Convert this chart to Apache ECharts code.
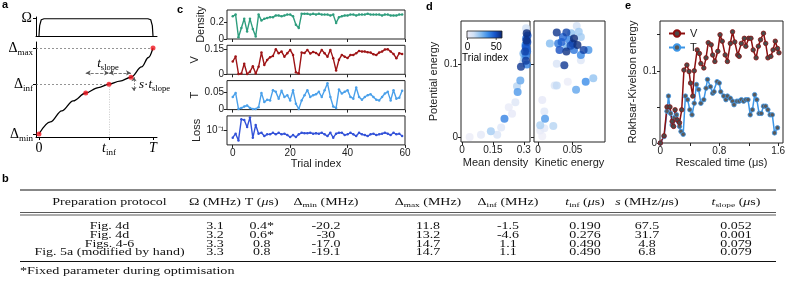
<!DOCTYPE html>
<html>
<head>
<meta charset="utf-8">
<script src="https://cdn.jsdelivr.net/npm/echarts@6.0.0/dist/echarts.min.js"></script>
<style>
html,body{margin:0;padding:0;background:#fff;}
#chart{width:793px;height:300px;}
</style>
</head>
<body>
<div id="chart"></div>
<script>
const SANS = '"Liberation Sans", Arial, Helvetica, sans-serif';
const SERIF = '"Liberation Serif", "Times New Roman", serif';

// ---------- Panel a (schematic sweep) ----------
const omegaT = [0, 0.006, 0.02, 0.045, 0.955, 0.98, 0.994, 1];
const omegaV = [0, 0.6, 0.94, 1, 1, 0.94, 0.6, 0];
const sweepT = [0, 0.1, 0.2, 0.3, 0.41, 0.52, 0.614, 0.71, 0.807, 0.9, 0.96, 1];
const sweepD = [0, 0.14, 0.27, 0.385, 0.477, 0.54, 0.58, 0.615, 0.66, 0.78, 0.89, 1];
const keyT = [0, 0.41, 0.614, 0.807, 1];
const keyD = [0, 0.477, 0.58, 0.66, 1];
const aTickX = [0, 0.614, 1];
const aTickY = [0, 0.58, 1];

// ---------- Panel c (optimisation trials) ----------
const density = [0.27,0.29,0.02,0.13,0.24,0.09,0.24,0.12,0.03,0.29, 0.22,0.24,0.25,0.26,0.26,0.28,0.28,0.27,0.28,0.29,
  0.29,0.27,0.17,0.13,0.30,0.30,0.30,0.29,0.30,0.29, 0.30,0.29,0.29,0.29,0.28,0.29,0.19,0.26,0.27,0.28,
  0.28,0.29,0.29,0.28,0.29,0.29,0.29,0.30,0.29,0.29, 0.29,0.29,0.28,0.29,0.29,0.28,0.28,0.28,0.29,0.29];
const potentialV = [0.075,0.105,0.002,0.004,0.062,0.002,0.015,0.048,0.004,0.044, 0.128,0.055,0.085,0.1,0.108,0.148,0.124,0.134,0.104,0.124,
  0.144,0.114,0.012,0.004,0.128,0.126,0.144,0.122,0.132,0.126, 0.114,0.144,0.124,0.104,0.144,0.094,0.022,0.086,0.114,0.104,
  0.096,0.114,0.114,0.124,0.138,0.134,0.134,0.13,0.128,0.118, 0.114,0.128,0.134,0.146,0.148,0.134,0.12,0.094,0.124,0.12];
const kineticT = [0.037,0.049,0.002,0.005,0.009,0.012,0.005,0.002,0.002,0.007, 0.049,0.022,0.029,0.027,0.057,0.052,0.032,0.055,0.037,0.042,
  0.027,0.057,0.017,0.002,0.027,0.042,0.057,0.037,0.042,0.045, 0.052,0.037,0.057,0.077,0.037,0.009,0.005,0.059,0.047,0.052,
  0.057,0.037,0.032,0.065,0.037,0.029,0.037,0.042,0.045,0.037, 0.029,0.027,0.037,0.047,0.052,0.027,0.057,0.032,0.035,0.055];
const loss = [0.056,0.077,0.045,0.24,0.227,0.13,0.28,0.056,0.153,0.077, 0.083,0.064,0.073,0.073,0.083,0.073,0.083,0.073,0.077,0.069,
  0.059,0.069,0.059,0.073,0.083,0.08,0.08,0.083,0.077,0.08, 0.077,0.083,0.073,0.064,0.083,0.056,0.077,0.083,0.083,0.069,
  0.073,0.083,0.073,0.064,0.083,0.073,0.069,0.064,0.073,0.077, 0.069,0.073,0.077,0.083,0.077,0.069,0.083,0.073,0.077,0.064];
const cTickX = [0, 20, 40, 60];

// ---------- Panel d (scatter) ----------
const dDensity = [0.037,0.092,0.171,0.14,0.19,0.206,0.227,0.243,0.259,0.267,0.27,0.283,0.295,0.286,0.302,0.311,0.306,0.314,0.308,0.317,0.311,0.314,0.311,0.298,0.309,0.316,0.312,0.318,0.305,0.31,0.315,0.313];
const dPotL    = [0.000,0.003,0.003,0.008,0.013,0.025,0.041,0.032,0.048,0.070,0.062,0.078,0.102,0.097,0.108,0.112,0.118,0.122,0.127,0.131,0.136,0.143,0.150,0.115,0.124,0.118,0.128,0.140,0.112,0.105,0.100,0.133];
const dIdxL    = [2,5,9,19,6,38,3,4,7,16,33,30,11,55,21,40,52,45,36,50,42,58,12,27,47,43,31,48,25,54,39,57];
const dKin  = [0.006,0.003,0.009,0.003,0.010,0.009,0.006,0.022,0.024,0.027,0.043,0.055,0.069,0.080,0.073,0.027,0.038,0.062,0.027,0.041,0.056,0.059,0.062,0.017,0.029,0.036,0.045,0.050,0.057,0.066,0.052,0.041,0.031,0.062,0.041,0.048,0.034,0.052,0.047];
const dPotR = [0.001,0.009,0.012,0.016,0.025,0.035,0.051,0.015,0.071,0.071,0.076,0.065,0.076,0.081,0.120,0.101,0.099,0.106,0.144,0.144,0.153,0.145,0.138,0.129,0.129,0.138,0.134,0.129,0.127,0.120,0.120,0.118,0.120,0.113,0.124,0.143,0.131,0.136,0.126];
const dIdxR = [1,3,5,18,33,6,4,16,8,14,2,30,36,22,34,9,55,7,56,52,11,20,19,24,40,44,38,50,58,53,41,57,49,37,26,23,46,59,51];

// ---------- Panel e (Rokhsar-Kivelson energy) ----------
const eTimeV = [0,0.05,0.09,0.13,0.16,0.18,0.2,0.23,0.26,0.29, 0.32,0.36,0.39,0.41,0.44,0.46,0.5,0.53,0.55,0.59,
  0.62,0.65,0.69,0.71,0.74,0.78,0.81,0.84,0.88,0.91, 0.95,0.98,1.01,1.05,1.07,1.1,1.14,1.16,1.2,1.23,
  1.26,1.3,1.33,1.36,1.4,1.43,1.46,1.5,1.53,1.56, 1.59,1.61];
const eV = [0,0.01,0.05,0.05,0.03,0.023,0.046,0.032,0.028,0.046, 0.101,0.108,0.099,0.083,0.065,0.1,0.129,0.124,0.11,0.104,
  0.118,0.139,0.136,0.122,0.113,0.127,0.15,0.141,0.122,0.113, 0.138,0.154,0.14,0.122,0.12,0.138,0.145,0.134,0.145,0.145,
  0.129,0.118,0.134,0.143,0.152,0.138,0.118,0.12,0.129,0.141, 0.131,0.125];
const eTimeT = [0,0.05,0.09,0.11,0.14,0.16,0.19,0.22,0.24,0.26, 0.28,0.31,0.34,0.37,0.4,0.43,0.46,0.49,0.52,0.55,
  0.59,0.62,0.64,0.68,0.71,0.73,0.77,0.8,0.82,0.86, 0.89,0.91,0.95,0.98,1.0,1.04,1.07,1.1,1.13,1.16,
  1.19,1.22,1.25,1.28,1.31,1.34,1.37,1.4,1.43,1.46, 1.49,1.52,1.55,1.59];
const eT = [0,0.009,0.044,0.065,0.041,0.025,0.035,0.039,0.03,0.023, 0.016,0.012,0.065,0.06,0.046,0.039,0.055,0.081,0.074,0.055,
  0.06,0.076,0.088,0.078,0.069,0.071,0.085,0.083,0.071,0.065, 0.06,0.065,0.062,0.058,0.053,0.058,0.058,0.06,0.058,0.06,
  0.06,0.039,0.046,0.067,0.06,0.041,0.041,0.051,0.051,0.046, 0.039,0.039,0.014,0.021];
const eTickX = [0, 0.4, 0.8, 1.2, 1.6];
const eLabelX = [0, 0.8, 1.6];
const eTickY = [0, 0.05, 0.1, 0.15];
const eLabelY = [0, 0.1];

// ---------- Table b ----------
const tableHeaders = ['Preparation protocol', 'Ω (MHz)', 'T ({i|μ}s)', 'Δ{s|min} (MHz)', 'Δ{s|max} (MHz)',
  'Δ{s|inf} (MHz)', '{i|t}{s|inf} ({i|μ}s)', '{i|s} (MHz/{i|μ}s)', '{i|t}{s|slope} ({i|μ}s)'];
const protocols = ['Fig. 4d', 'Fig. 4d', 'Figs. 4-6', 'Fig. 5a (modified by hand)'];
const omegaCol = ['3.1', '3.2', '3.3', '3.3'];
const durationCol = ['0.4*', '0.6*', '0.8', '0.8'];
const deltaMinCol = ['-20.2', '-30', '-17.0', '-19.1'];
const deltaMaxCol = ['11.8', '13.2', '14.7', '14.7'];
const deltaInfCol = ['-1.5', '-4.6', '1.1', '1.1'];
const tInfCol = ['0.190', '0.276', '0.490', '0.490'];
const slopeCol = ['67.5', '31.7', '4.8', '6.8'];
const tSlopeCol = ['0.052', '0.001', '0.079', '0.079'];
const footnote = '*Fixed parameter during optimisation';

// ---------- colours ----------
const cmap = ['#f1eef8', '#cfe0f5', '#86bdf0', '#3a8ce8', '#1552c8', '#0a246c'];
const colDensity = '#2f9e7e', colV = '#9e1416', colT = '#4aa0ea', colLoss = '#3352d8';
const eColV = '#8c0f0f', eColT = '#3d96e6';

// ---------- layout ----------
const box = {show: true, borderColor: '#222', borderWidth: 1, backgroundColor: 'transparent'};
const grids = [
  {left: 36, top: 17, width: 121, height: 19},
  {left: 36, top: 42, width: 121, height: 95},
  Object.assign({left: 227, top: 10, width: 178, height: 29}, box),
  Object.assign({left: 227, top: 45.3, width: 178, height: 29}, box),
  Object.assign({left: 227, top: 80.6, width: 178, height: 29}, box),
  Object.assign({left: 227, top: 115.9, width: 178, height: 29}, box),
  Object.assign({left: 461, top: 21, width: 69, height: 121}, box),
  Object.assign({left: 534, top: 21, width: 71, height: 121}, box),
  Object.assign({left: 660, top: 21, width: 123, height: 122}, box)
];

function mkAxis(gridIndex, min, max, ticks, labels, fmt, extra) {
  return Object.assign({
    type: 'value', gridIndex, min, max,
    axisLine: {show: false, onZero: false},
    splitLine: {show: false},
    axisTick: {show: true, customValues: ticks, length: 3, lineStyle: {color: '#222', width: 1}},
    axisLabel: {show: labels.length > 0, customValues: labels.length ? labels : ticks,
      formatter: fmt || (v => String(v)), fontSize: 10, color: '#222', fontFamily: SANS, margin: 3},
    nameTextStyle: {fontSize: 11, color: '#222', fontFamily: SANS},
    nameLocation: 'middle'
  }, extra || {});
}

const subRich = {
  d: {fontFamily: SERIF, fontSize: 14, lineHeight: 18, color: '#000'},
  i: {fontFamily: SERIF, fontSize: 14, fontStyle: 'italic', lineHeight: 18, color: '#000'},
  r: {fontFamily: SERIF, fontSize: 14, lineHeight: 18, color: '#000'},
  s: {fontFamily: SERIF, fontSize: 9, lineHeight: 8, verticalAlign: 'bottom', color: '#000'}
};
const aLine = {show: true, onZero: false, lineStyle: {color: '#000', width: 1}};

const xAxes = [
  {type: 'value', gridIndex: 0, min: -0.026, max: 1.035, axisLine: aLine, axisTick: {show: false},
   axisLabel: {show: false}, splitLine: {show: false}},
  {type: 'value', gridIndex: 1, min: -0.026, max: 1.035, axisLine: aLine, splitLine: {show: false},
   axisTick: {show: true, customValues: aTickX, length: 3, lineStyle: {color: '#000'}},
   axisLabel: {customValues: aTickX, margin: 2, rich: subRich,
     formatter: v => v === 0 ? '{r|0}' : (v === 1 ? '{i|T}' : '{i|t}{s|inf}')}}
];
const yAxes = [
  {type: 'value', gridIndex: 0, min: 0, max: 1.1, axisLine: aLine, splitLine: {show: false},
   axisTick: {show: true, customValues: [1], length: 3, lineStyle: {color: '#000'}},
   axisLabel: {customValues: [1], margin: 4, formatter: () => '{r|Ω}', rich: subRich}},
  {type: 'value', gridIndex: 1, min: -0.035, max: 1.07, axisLine: aLine, splitLine: {show: false},
   axisTick: {show: true, customValues: aTickY, length: 3, lineStyle: {color: '#000'}},
   axisLabel: {customValues: aTickY, margin: 3, rich: subRich,
     formatter: v => v === 0 ? '{d|Δ}{s|min}' : (v === 1 ? '{d|Δ}{s|max}' : '{d|Δ}{s|inf}')}}
];

// panel c axes
const cPanels = [
  {name: 'Density', vals: density, color: colDensity, min: 0, max: 0.345, ticks: [0, 0.2]},
  {name: 'V', vals: potentialV, color: colV, min: 0, max: 0.171, ticks: [0, 0.15]},
  {name: 'T', vals: kineticT, color: colT, min: 0, max: 0.085, ticks: [0, 0.05]},
  {name: 'Loss', vals: loss.map(v => Math.log10(v)), color: colLoss, min: -1.5, max: -0.5, ticks: [-1]}
];
cPanels.forEach((p, k) => {
  const gi = 2 + k;
  xAxes.push(mkAxis(gi, -2, 60, cTickX, k === 3 ? cTickX : [], null,
    k === 3 ? {name: 'Trial index', nameGap: 14} : {}));
  const fmt = k === 3 ? (() => '10⁻¹') : null;
  yAxes.push(mkAxis(gi, p.min, p.max, p.ticks, p.ticks, fmt, {name: p.name, nameRotate: 90, nameGap: 21}));
});
// panel d axes
xAxes.push(mkAxis(6, -0.005, 0.33, [0, 0.15, 0.3], [0, 0.15, 0.3], null, {name: 'Mean density', nameGap: 15}));
yAxes.push(mkAxis(6, -0.007, 0.16, [0, 0.1], [0, 0.1], null, {name: 'Potential energy', nameRotate: 90, nameGap: 22}));
xAxes.push(mkAxis(7, -0.006, 0.097, [0, 0.05], [0, 0.05], null, {name: 'Kinetic energy', nameGap: 15}));
yAxes.push(mkAxis(7, -0.007, 0.16, [0, 0.1], [], null, {}));
// panel e axes
xAxes.push(mkAxis(8, -0.005, 1.665, eTickX, eLabelX, null, {name: 'Rescaled time (μs)', nameGap: 14}));
yAxes.push(mkAxis(8, 0, 0.169, eTickY, eLabelY, null, {name: 'Rokhsar-Kivelson energy', nameRotate: 90, nameGap: 22}));

// ---------- series ----------
const zip = (a, b) => a.map((v, i) => [v, b[i]]);
const series = [];
series.push({type: 'line', xAxisIndex: 0, yAxisIndex: 0, data: zip(omegaT, omegaV), showSymbol: false,
  lineStyle: {color: '#000', width: 1.2}, silent: true});
const gl = {color: '#555', width: 0.8};
series.push({type: 'line', xAxisIndex: 1, yAxisIndex: 1, data: zip(sweepT, sweepD), smooth: 0.35,
  smoothMonotone: 'x', showSymbol: false, lineStyle: {color: '#000', width: 1.3}, silent: true,
  markLine: {silent: true, symbol: 'none', label: {show: false}, animation: false, data: [
    [{coord: [-0.026, keyD[4]], lineStyle: {color: '#666', width: 0.7, type: [2, 2]}}, {coord: [keyT[4], keyD[4]]}],
    [{coord: [-0.026, keyD[2]], lineStyle: {color: '#666', width: 0.7, type: [2, 2]}}, {coord: [keyT[2], keyD[2]]}],
    [{coord: [keyT[2], keyD[2]], lineStyle: {color: '#bbb', width: 0.8, type: [1, 1.5]}}, {coord: [keyT[2], -0.035]}],
    [{coord: [keyT[1], 0.71], symbol: 'arrow', symbolSize: [4, 5], lineStyle: gl}, {coord: [keyT[2], 0.71], symbol: 'arrow', symbolSize: [4, 5]}],
    [{coord: [keyT[2], 0.71], symbol: 'arrow', symbolSize: [4, 5], lineStyle: gl}, {coord: [keyT[3], 0.71], symbol: 'arrow', symbolSize: [4, 5]}],
    [{coord: [0.833, keyD[3]], symbol: 'arrow', symbolSize: [4, 4], lineStyle: {color: '#555', width: 0.8, type: [1.5, 1.5]}}, {coord: [0.833, 0.5], symbol: 'arrow', symbolSize: [4, 4]}]
  ]}});
series.push({type: 'scatter', xAxisIndex: 1, yAxisIndex: 1, data: zip(keyT, keyD), symbolSize: 5,
  itemStyle: {color: '#f0141e'}, z: 5, silent: true});

const trials = density.map((_, i) => i);
cPanels.forEach((p, k) => {
  series.push({type: 'line', name: 'c-' + p.name, xAxisIndex: 2 + k, yAxisIndex: 2 + k,
    data: zip(trials, p.vals), symbol: 'circle', symbolSize: 2.5, showSymbol: true,
    lineStyle: {color: p.color, width: 1.4}, itemStyle: {color: p.color}, silent: true});
});

const byIdx = (xs, ys, ids) => xs.map((x, i) => [x, ys[i], ids[i]]).sort((a, b) => a[2] - b[2]);
series.push({type: 'scatter', xAxisIndex: 6, yAxisIndex: 6, data: byIdx(dDensity, dPotL, dIdxL), symbolSize: 8, silent: true});
series.push({type: 'scatter', xAxisIndex: 7, yAxisIndex: 7, data: byIdx(dKin, dPotR, dIdxR), symbolSize: 8, silent: true});

series.push({type: 'line', name: 'T', xAxisIndex: 8, yAxisIndex: 8, data: zip(eTimeT, eT), symbol: 'circle', symbolSize: 4.5,
  lineStyle: {color: eColT, width: 1.5}, itemStyle: {color: '#5a5a5a', borderColor: eColT, borderWidth: 0.8}, silent: true});
series.push({type: 'line', name: 'V', xAxisIndex: 8, yAxisIndex: 8, data: zip(eTimeV, eV), symbol: 'circle', symbolSize: 4.5,
  lineStyle: {color: eColV, width: 1.5}, itemStyle: {color: '#4a4a4a', borderColor: eColV, borderWidth: 0.8}, silent: true});

// ---------- graphic: letters, annotations, colorbar, table ----------
const graphic = [];
const txt = (x, y, text, o, extra) => graphic.push(Object.assign({type: 'text', x, y, silent: true,
  style: Object.assign({text, fill: '#000', fontFamily: SANS, fontSize: 11, align: 'left', verticalAlign: 'middle',
    textAlign: 'left', textVerticalAlign: 'middle'}, o || {})}, extra || {}));
[['a', 2, 5], ['b', 2, 179], ['c', 177, 10], ['d', 426, 7], ['e', 625, 6]].forEach(l =>
  txt(l[1], l[2], l[0], {fontWeight: 'bold', fontSize: 11}));

const annRich = {
  i: {fontFamily: SERIF, fontSize: 13, fontStyle: 'italic', lineHeight: 17, fill: '#000'},
  r: {fontFamily: SERIF, fontSize: 13, lineHeight: 17, fill: '#000'},
  s: {fontFamily: SERIF, fontSize: 8.5, lineHeight: 8, verticalAlign: 'bottom', fill: '#000'}
};
txt(108, 64, '{i|t}{s|slope}', {rich: annRich, align: 'center', textAlign: 'center', lineHeight: 17});
txt(139, 85, '{i|s}{r|·}{i|t}{s|slope}', {rich: annRich, lineHeight: 17});

// colorbar
graphic.push({type: 'rect', silent: true, shape: {x: 467, y: 31, width: 35, height: 7},
  style: {fill: {type: 'linear', x: 0, y: 0, x2: 1, y2: 0,
    colorStops: cmap.map((c, i) => ({offset: i / (cmap.length - 1), color: c}))}, stroke: '#222', lineWidth: 0.8}});
graphic.push({type: 'line', silent: true, shape: {x1: 467.5, y1: 38, x2: 467.5, y2: 40}, style: {stroke: '#222', lineWidth: 0.8}});
graphic.push({type: 'line', silent: true, shape: {x1: 496.2, y1: 38, x2: 496.2, y2: 40}, style: {stroke: '#222', lineWidth: 0.8}});
txt(467.5, 47, '0', {align: 'center', textAlign: 'center', fontSize: 10});
txt(496.2, 47, '50', {align: 'center', textAlign: 'center', fontSize: 10});
txt(485, 58, 'Trial index', {align: 'center', textAlign: 'center', fontSize: 10});

// table (LaTeX-style table, wide glyphs)
const TFS = 10.5, TSX = 1.33;
const tRich = {
  i: {fontFamily: SERIF, fontSize: TFS, fontStyle: 'italic', lineHeight: 14, fill: '#111'},
  s: {fontFamily: SERIF, fontSize: 7, lineHeight: 7, verticalAlign: 'bottom', fill: '#111'}
};
const colX = [109.5, 215, 261.7, 326, 428, 508, 585, 647, 736];
const hline = (y, w) => graphic.push({type: 'line', silent: true, shape: {x1: 20, y1: y, x2: 776, y2: y},
  style: {stroke: '#111', lineWidth: w}});
hline(190, 1); hline(212.5, 0.7); hline(215, 0.7); hline(261.5, 1);
tableHeaders.forEach((h, j) => txt(colX[j], 202, h, {fontFamily: SERIF, fontSize: TFS, fill: '#111', lineHeight: 14,
  rich: tRich, align: 'center', textAlign: 'center'}, {scaleX: TSX}));
const cols = [protocols, omegaCol, durationCol, deltaMinCol, deltaMaxCol, deltaInfCol, tInfCol, slopeCol, tSlopeCol];
const rowY = [226, 235, 244, 252.7];
cols.forEach((col, j) => col.forEach((v, r) => txt(colX[j], rowY[r], v,
  {fontFamily: SERIF, fontSize: TFS, fill: '#111', align: 'center', textAlign: 'center'}, {scaleX: TSX})));
txt(20, 271.5, footnote, {fontFamily: SERIF, fontSize: TFS, fill: '#111'}, {scaleX: 1.35});

const option = {
  animation: false,
  backgroundColor: '#fff',
  grid: grids, xAxis: xAxes, yAxis: yAxes, series,
  visualMap: {type: 'continuous', show: false, min: 0, max: 60, dimension: 2, seriesIndex: [7, 8],
    inRange: {color: cmap}},
  legend: {data: ['V', 'T'], orient: 'vertical', left: 663, top: 23, itemWidth: 16, itemHeight: 8, itemGap: 3,
    textStyle: {fontSize: 11, fontFamily: SANS, color: '#222'}, selectedMode: false},
  graphic
};
const chart = echarts.init(document.getElementById('chart'), null, {renderer: 'canvas'});
chart.setOption(option);
</script>
</body>
</html>
